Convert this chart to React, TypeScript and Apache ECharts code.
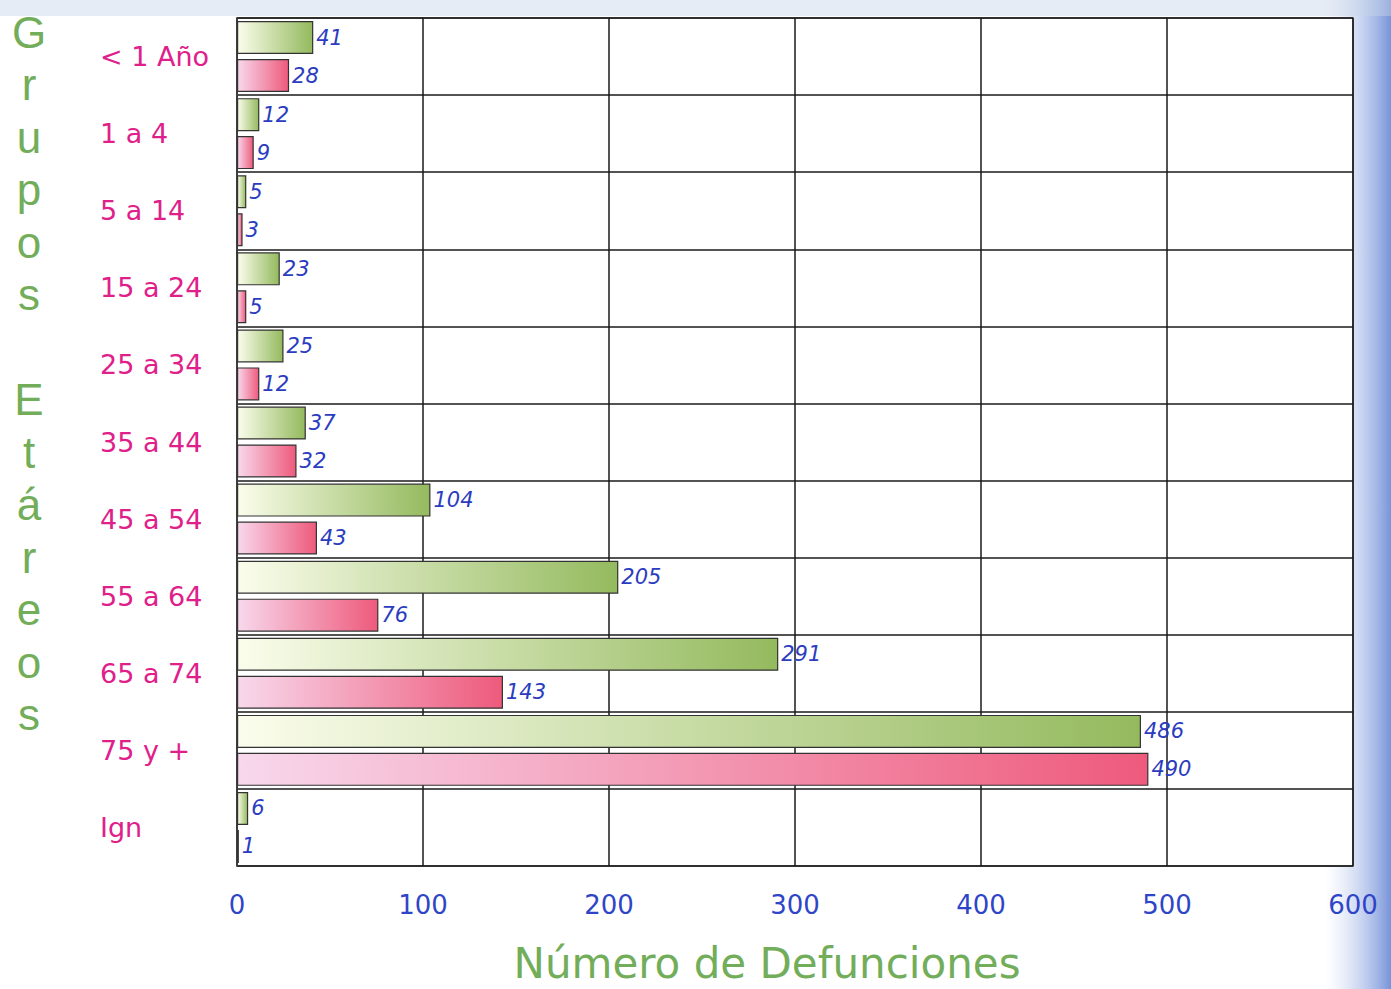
import React, { useEffect, useRef } from "react";
import * as echarts from "echarts";

const categories = ["< 1 Año", "1 a 4", "5 a 14", "15 a 24", "25 a 34", "35 a 44", "45 a 54", "55 a 64", "65 a 74", "75 y +", "Ign"];
const greenValues = [41, 12, 5, 23, 25, 37, 104, 205, 291, 486, 6];
const pinkValues = [28, 9, 3, 5, 12, 32, 43, 76, 143, 490, 1];
const xTicks = [0, 100, 200, 300, 400, 500, 600];
const yTitle = "Grupos Etáreos";
const xTitle = "Número de Defunciones";

const FONT = "'DejaVu Sans', Verdana, sans-serif";

export default function App() {
  const ref = useRef<HTMLDivElement>(null);
  useEffect(() => {
    if (!ref.current) return;
    const chart = echarts.init(ref.current, null, { renderer: "svg" });
    const letters: any[] = [];
    let yy = 32;
    for (const ch of yTitle.split("")) {
      if (ch !== " ") {
        letters.push({
          type: "text",
          x: 29,
          y: yy,
          style: { text: ch, fill: "#72ad5a", font: "44px 'Liberation Sans', Arial, sans-serif", textAlign: "center", textVerticalAlign: "middle" },
          z: 10,
        });
      }
      yy += 52.5;
    }
    const labelStyle = {
      show: true,
      position: "right",
      distance: 3,
      color: "#2b3cc0",
      fontStyle: "italic",
      fontSize: 21,
      fontFamily: FONT,
      formatter: (p: any) => String(p.value),
    };
    chart.setOption({
      animation: false,
      backgroundColor: "#ffffff",
      graphic: [
        {
          type: "rect",
          shape: { x: 1325, y: 0, width: 66, height: 989 },
          style: {
            fill: new echarts.graphic.LinearGradient(0, 0, 1, 0, [
              { offset: 0, color: "rgba(200,215,240,0)" },
              { offset: 1, color: "#7893da" },
            ]),
          },
          z: -10,
        },
        {
          type: "rect",
          shape: { x: 0, y: 0, width: 1391, height: 16 },
          style: { fill: "rgba(200,212,232,0.45)" },
          z: -10,
        },
        ...letters,
        {
          type: "text",
          x: 767,
          y: 963,
          style: { text: xTitle, fill: "#72ad5a", font: "42px " + FONT, textAlign: "center", textVerticalAlign: "middle" },
        },
      ],
      grid: { left: 237, top: 18, right: 38, bottom: 123, show: true, backgroundColor: "#ffffff", borderColor: "#444", borderWidth: 1.5 },
      xAxis: {
        type: "value",
        min: 0,
        max: 600,
        interval: 100,
        axisLine: { show: false },
        axisTick: { show: false },
        splitLine: { show: true, lineStyle: { color: "#1a1a1a", width: 1.5 } },
        axisLabel: {
          color: "#2f45c8",
          fontSize: 26,
          margin: 26,
          fontFamily: FONT,
          formatter: (v: number) => (xTicks.includes(v) ? String(v) : ""),
        },
      },
      yAxis: {
        type: "category",
        data: categories,
        inverse: true,
        axisLine: { show: true, lineStyle: { color: "#444", width: 1.5 } },
        axisTick: { show: false },
        splitLine: { show: true, lineStyle: { color: "#1a1a1a", width: 1.5 } },
        axisLabel: {
          color: "#e0208a",
          fontSize: 27,
          align: "left",
          margin: 137,
          fontFamily: FONT,
        },
      },
      series: [
        {
          type: "bar",
          name: "green",
          data: greenValues,
          barWidth: 33,
          barGap: "15%",
          itemStyle: {
            color: new echarts.graphic.LinearGradient(0, 0, 1, 0, [
              { offset: 0, color: "#fbfdec" },
              { offset: 1, color: "#94ba5e" },
            ]),
            borderColor: "#333",
            borderWidth: 1.2,
          },
          label: labelStyle,
        },
        {
          type: "bar",
          name: "pink",
          data: pinkValues,
          barWidth: 33,
          barGap: "15%",
          itemStyle: {
            color: new echarts.graphic.LinearGradient(0, 0, 1, 0, [
              { offset: 0, color: "#f8d8ec" },
              { offset: 1, color: "#ee5a7c" },
            ]),
            borderColor: "#333",
            borderWidth: 1.2,
          },
          label: labelStyle,
        },
      ],
    });
    return () => chart.dispose();
  }, []);
  return <div ref={ref} style={{ position: "fixed", left: 0, top: 0, width: 1391, height: 989 }} />;
}
